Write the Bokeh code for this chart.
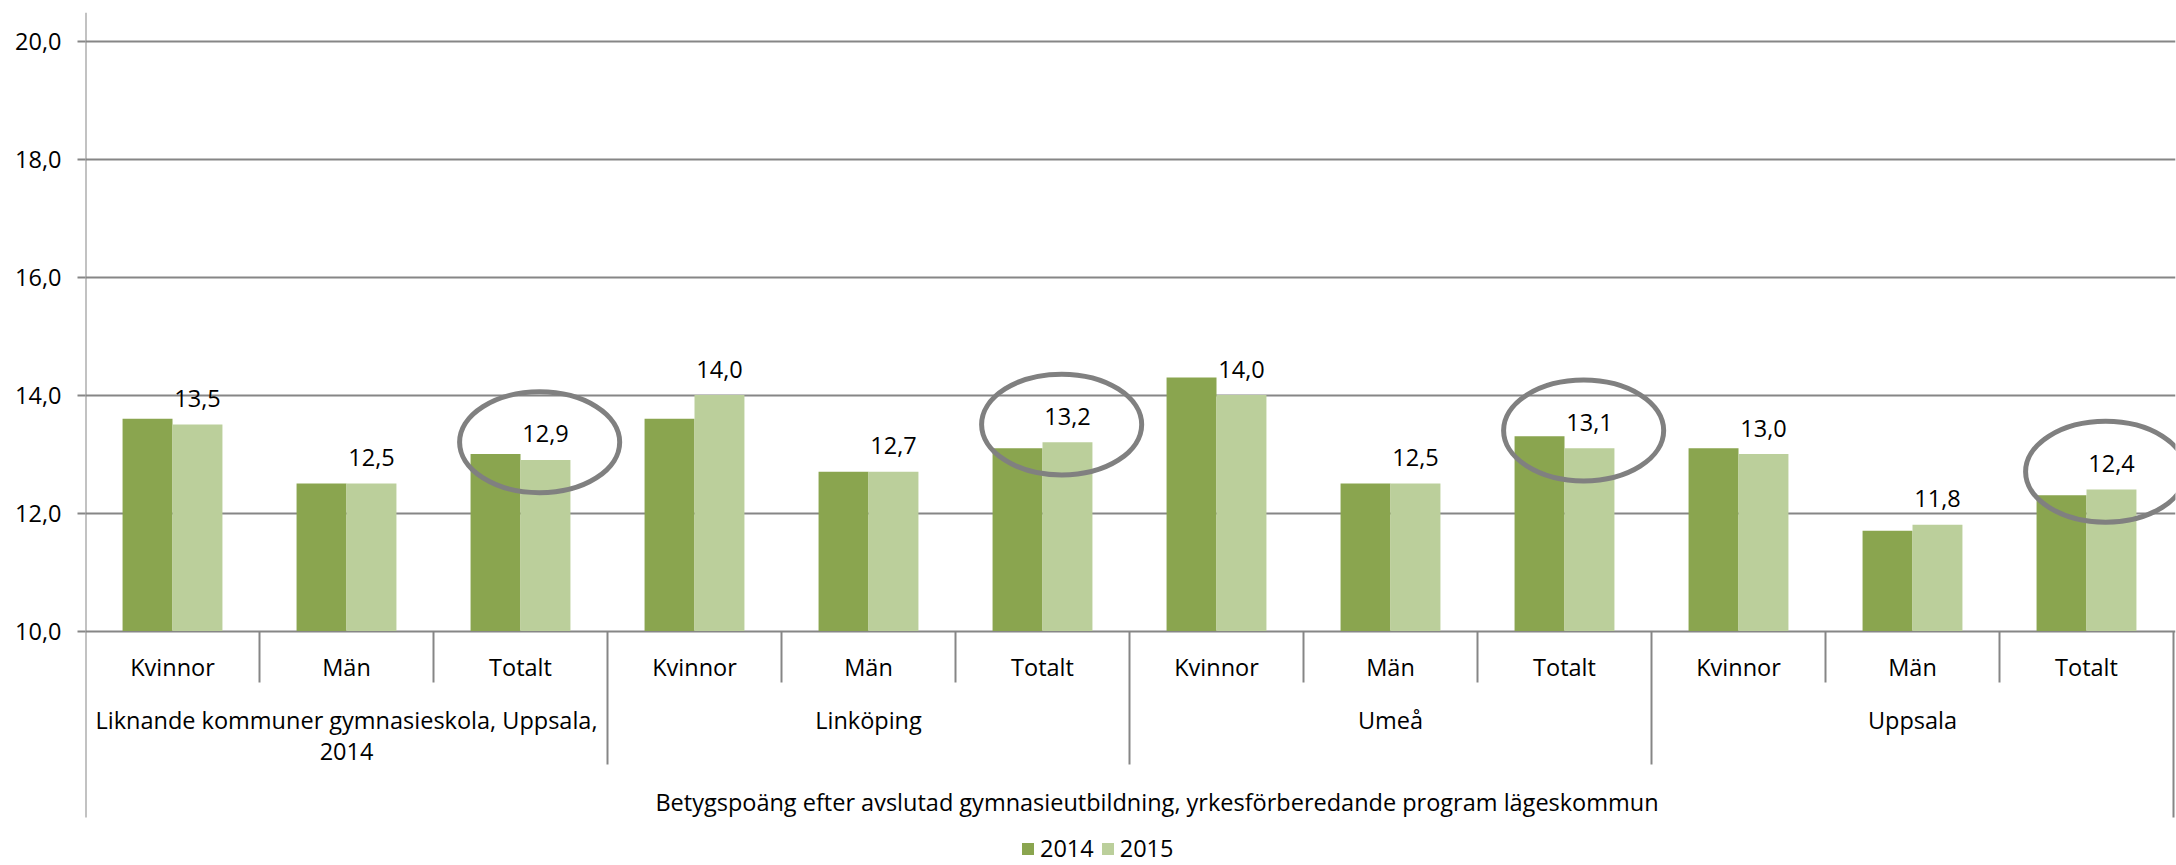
from bokeh.plotting import figure
from bokeh.models import (Range1d, FixedTicker, CustomJSTickFormatter, ColumnDataSource,
                          Legend, LegendItem)
from bokeh.core.properties import value
from bokeh.embed import file_html
from bokeh.resources import INLINE

# ---------------- data ----------------
group_lines = [["Liknande kommuner gymnasieskola, Uppsala,", "2014"],
               ["Linköping"], ["Umeå"], ["Uppsala"]]
subcats = ["Kvinnor", "Män", "Totalt"]
values_2014 = [13.6, 12.5, 13.0, 13.6, 12.7, 13.1, 14.3, 12.5, 13.3, 13.1, 11.7, 12.3]
values_2015 = [13.5, 12.5, 12.9, 14.0, 12.7, 13.2, 14.0, 12.5, 13.1, 13.0, 11.8, 12.4]
series = ["2014", "2015"]
y_ticks = [10, 12, 14, 16, 18, 20]
axis_title = "Betygspoäng efter avslutad gymnasieutbildning, yrkesförberedande program lägeskommun"
circled_subcat = "Totalt"

# ---------------- style ----------------
FONT = "Open Sans"
FS = "23.5px"
DARK = "#8AA54F"
LIGHT = "#BBCF9B"
GRID = "#868686"
RING = "#808080"
BAR_W = 0.287
PX_PER_UNIT = 58.98
Y0_PX = 630.5
W, H = 2176, 865
LEFT, RIGHT, TOP = 85, 1, 12


def y_at(px):
    return 10 - (px - Y0_PX) / PX_PER_UNIT


n_groups = len(group_lines)
n_sub = len(subcats)
n_cat = n_groups * n_sub
frame_w = W - LEFT - RIGHT

p = figure(width=W, height=H, x_range=Range1d(0, frame_w / 174.0),
           y_range=Range1d(y_at(H), y_at(TOP)), output_backend="svg",
           toolbar_location=None, x_axis_location=None,
           min_border_left=LEFT, min_border_right=RIGHT, min_border_top=TOP, min_border_bottom=0,
           outline_line_color=None, background_fill_color="white", border_fill_color="white")

ticker = FixedTicker(ticks=y_ticks)
yax = p.yaxis[0]
yax.ticker = ticker
yax.formatter = CustomJSTickFormatter(code="return tick.toFixed(1).replace('.', ',');")
yax.axis_line_color = None
yax.major_tick_line_color = GRID
yax.major_tick_line_width = 2
yax.major_tick_out = 8
yax.major_tick_in = 0
yax.minor_tick_line_color = None
yax.major_label_text_font = FONT
yax.major_label_text_font_size = FS
yax.major_label_text_color = "#000000"
yax.major_label_standoff = 16
p.xgrid.visible = False
p.ygrid.ticker = ticker
p.ygrid.grid_line_color = GRID
p.ygrid.grid_line_width = 2

# bars
idx = list(range(n_cat))
src = ColumnDataSource(dict(
    x14=[i + 0.5 - BAR_W / 2 for i in idx],
    x15=[i + 0.5 + BAR_W / 2 for i in idx],
    v14=values_2014, v15=values_2015,
    lab15=[f"{v:.1f}".replace(".", ",") for v in values_2015],
))
r14 = p.vbar(x="x14", width=BAR_W, bottom=10, top="v14", source=src,
             fill_color=DARK, line_color=None)
r15 = p.vbar(x="x15", width=BAR_W, bottom=10, top="v15", source=src,
             fill_color=LIGHT, line_color=None)

# data labels (2015 only)
p.text(x="x15", y="v15", text="lab15", source=src, y_offset=-26,
       text_align="center", text_baseline="alphabetic",
       text_font=value(FONT), text_font_size=FS, text_color="#000000")

# axis lines / separators
y_axis_bottom = y_at(817)
p.segment(x0=[0], y0=[y_axis_bottom], x1=[0], y1=[y_at(TOP)], line_color=GRID, line_width=2)
sx, sy0, sy1 = [], [], []
for b in range(1, n_cat + 1):
    sx.append(b)
    sy0.append(10)
    if b == n_cat:
        sy1.append(y_axis_bottom)
    elif b % n_sub == 0:
        sy1.append(y_at(764))
    else:
        sy1.append(y_at(682))
p.segment(x0=sx, y0=sy0, x1=sx, y1=sy1, line_color=GRID, line_width=2)

# category labels
p.text(x=[i + 0.5 for i in idx], y=[y_at(666)] * n_cat,
       text=[subcats[i % n_sub] for i in idx], text_align="center", text_baseline="middle",
       text_font=value(FONT), text_font_size=FS, text_color="#000000")

gx, gy, gt = [], [], []
for g, lines in enumerate(group_lines):
    for k, line in enumerate(lines):
        gx.append(g * n_sub + n_sub / 2)
        gy.append(y_at(719 + 32 * k))
        gt.append(line)
p.text(x=gx, y=gy, text=gt, text_align="center", text_baseline="middle",
       text_font=value(FONT), text_font_size=FS, text_color="#000000")

p.text(x=[6.158], y=[y_at(801)], text=[axis_title], text_align="center", text_baseline="middle",
       text_font=value(FONT), text_font_size=FS, text_color="#000000")

# highlight rings around the "Totalt" categories
ring_i = [i for i in idx if subcats[i % n_sub] == circled_subcat]
p.ellipse(x=[i + 0.61 for i in ring_i], y=[values_2015[i] + 0.3 for i in ring_i],
          width=0.92, height=1.71, fill_alpha=0, line_color=RING, line_width=5)

legend = Legend(items=[LegendItem(label=series[0], renderers=[r14]),
                       LegendItem(label=series[1], renderers=[r15])],
                location=(1020 - LEFT, 1), orientation="horizontal",
                label_text_font=FONT, label_text_font_size=FS, label_text_color="#000000",
                glyph_width=15, glyph_height=15, label_standoff=5, spacing=6,
                padding=0, margin=0, border_line_alpha=0, background_fill_alpha=0)
p.add_layout(legend)

open("out.html", "w").write(file_html(p, INLINE))
